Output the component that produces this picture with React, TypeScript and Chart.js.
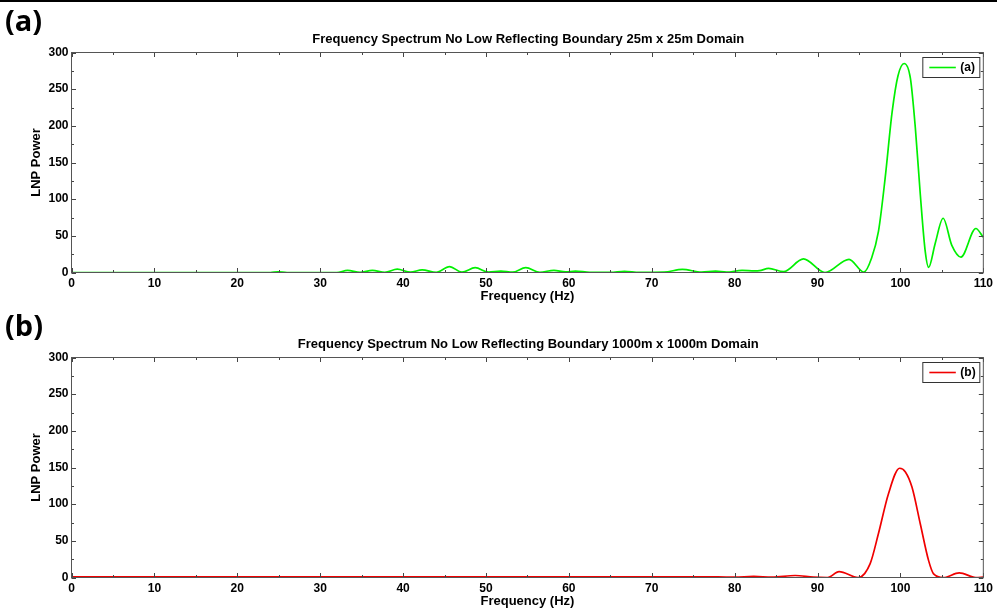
import React, { useEffect, useRef } from "react";
import { Chart, registerables } from "chart.js";

Chart.register(...registerables);

// ---------- data ----------
const freqA = [0, 10, 20, 24, 24.9, 26, 32, 33.3, 34.8, 36.3, 37.8, 39.3, 40.9, 42.3, 44, 45.6, 47.1, 48.7, 50.3, 51.8, 53.2, 54.8, 56.5, 58.2, 59.6, 60.8, 62.5, 65, 66.7, 68.5, 71.5, 73.7, 76, 77.7, 79, 80.9, 82.4, 83, 84.1, 85.9, 88.3, 90.9, 93.8, 95.6, 96.5, 97.35, 98.15, 99.0, 99.7, 100.45, 101.2, 101.8, 102.4, 103.0, 103.4, 104.2, 105.15, 106.2, 107.3, 109.1, 110];
const powerA = [0, 0, 0, 0, 1, 0, 0, 2.8, 0.3, 2.8, 0.3, 4.5, 0.4, 3.6, 0.2, 8, 0.5, 6.6, 0.5, 1.8, 0.4, 6.6, 0.3, 3, 0.8, 2, 0.3, 0.2, 1.6, 0.2, 0.5, 4.3, 0.5, 1.8, 0.5, 3, 2.2, 2.5, 5.5, 1.2, 18.5, 0, 18, 0.5, 19, 56, 128, 219, 268, 285, 265, 197, 106, 28, 7, 40, 74, 37, 21, 60, 48];

const freqB = [0, 10, 20, 30, 40, 50, 60, 70, 78, 80, 82.3, 84.5, 87.3, 89.5, 91.2, 92.6, 94.9, 96.35, 97.35, 98.55, 99.9, 100.6, 101.4, 102.4, 103.4, 104.0, 105.2, 107.1, 109.1, 110];
const powerB = [0.8, 0.8, 0.8, 0.8, 0.8, 0.8, 0.8, 0.8, 0.8, 0.5, 1.5, 0.5, 2.7, 0.5, 0, 8, 0, 19, 60, 114, 149, 144, 123, 73, 23, 5, 0, 6.4, 0, 0.5];

const xMin = 0;
const xMax = 110;
const xStep = 10;
const yMin = 0;
const yMax = 300;
const yStep = 50;

const titleA = "Frequency Spectrum No Low Reflecting Boundary 25m x 25m Domain";
const titleB = "Frequency Spectrum No Low Reflecting Boundary 1000m x 1000m Domain";

// ---------- layout ----------
const W = 997;
const PANEL_H = 305;
const AREA_LEFT = 71.5;
const AREA_RIGHT = 985;
const AREA_TOP = 52.5;
const AREA_BOTTOM = 272.5;
const FONT = "'Liberation Sans', Arial, sans-serif";

const framePlugin = {
  id: "frameTicks",
  afterDraw(chart: any) {
    const { ctx, chartArea } = chart;
    const { left, right, top, bottom } = chartArea;
    const xs = chart.scales.x;
    const ys = chart.scales.y;
    ctx.save();
    ctx.lineWidth = 1;
    ctx.strokeStyle = "#444";
    ctx.beginPath();
    for (let v = xMin; v <= xMax + 1e-9; v += xStep / 2) {
      const major = Math.abs(v / xStep - Math.round(v / xStep)) < 1e-6;
      const len = major ? 4.5 : 2.5;
      const px = Math.round(xs.getPixelForValue(v)) + 0.5;
      ctx.moveTo(px, bottom);
      ctx.lineTo(px, bottom - len);
      ctx.moveTo(px, top);
      ctx.lineTo(px, top + len);
    }
    for (let v = yMin; v <= yMax + 1e-9; v += yStep / 2) {
      const major = Math.abs(v / yStep - Math.round(v / yStep)) < 1e-6;
      const len = major ? 4.5 : 2.5;
      const py = Math.round(ys.getPixelForValue(v)) + 0.5;
      ctx.moveTo(left, py);
      ctx.lineTo(left + len, py);
      ctx.moveTo(right, py);
      ctx.lineTo(right - len, py);
    }
    ctx.stroke();
    ctx.strokeStyle = "#555";
    ctx.strokeRect(left, top, right - left, bottom - top);
    ctx.restore();
  },
};

const legendPlugin = {
  id: "boxLegend",
  afterDraw(chart: any) {
    const { ctx, chartArea } = chart;
    const ds = chart.data.datasets[0];
    const w = 57;
    const h = 20;
    const bx = chartArea.right - 3.5 - w;
    const by = chartArea.top + 5;
    ctx.save();
    ctx.fillStyle = "#fff";
    ctx.fillRect(bx, by, w, h);
    ctx.strokeStyle = "#333";
    ctx.lineWidth = 1;
    ctx.strokeRect(bx, by, w, h);
    ctx.strokeStyle = ds.borderColor;
    ctx.lineWidth = 1.6;
    ctx.beginPath();
    ctx.moveTo(bx + 6.5, by + h / 2);
    ctx.lineTo(bx + 33, by + h / 2);
    ctx.stroke();
    ctx.fillStyle = "#000";
    ctx.font = `bold 12px ${FONT}`;
    ctx.textBaseline = "middle";
    ctx.textAlign = "left";
    ctx.fillText(ds.label, bx + 37.5, by + h / 2 + 0.5);
    ctx.restore();
  },
};

function Panel(props: { top: number; tag: string; title: string; freq: number[]; power: number[]; color: string; label: string }) {
  const ref = useRef<HTMLCanvasElement | null>(null);
  useEffect(() => {
    if (!ref.current) return;
    const pts = props.freq.map((f, i) => ({ x: f, y: props.power[i] }));
    const tickFont = { family: FONT, size: 12, weight: "bold" as const };
    const titleFont = { family: FONT, size: 13, weight: "bold" as const };
    const chart = new Chart(ref.current, {
      type: "line",
      data: {
        datasets: [
          {
            label: props.label,
            data: pts,
            borderColor: props.color,
            backgroundColor: props.color,
            borderWidth: 1.7,
            pointRadius: 0,
            cubicInterpolationMode: "monotone",
            fill: false,
          },
        ],
      },
      options: {
        responsive: false,
        animation: false,
        devicePixelRatio: 1,
        layout: { padding: { top: AREA_TOP, right: W - AREA_RIGHT, left: 0, bottom: 0 } },
        plugins: { legend: { display: false }, title: { display: false }, tooltip: { enabled: false } },
        scales: {
          x: {
            type: "linear",
            min: xMin,
            max: xMax,
            afterFit: (s: any) => {
              s.height = PANEL_H - AREA_BOTTOM;
            },
            grid: { display: false, drawTicks: false },
            border: { display: false },
            ticks: { stepSize: xStep, padding: 4, color: "#000", font: tickFont, maxRotation: 0, autoSkip: false },
            title: { display: true, text: "Frequency (Hz)", color: "#000", font: titleFont, padding: { top: 0, bottom: 1 } },
          },
          y: {
            type: "linear",
            min: yMin,
            max: yMax,
            afterFit: (s: any) => {
              s.width = AREA_LEFT;
            },
            grid: { display: false, drawTicks: false },
            border: { display: false },
            ticks: { stepSize: yStep, padding: 3, color: "#000", font: tickFont },
            title: { display: true, text: "LNP Power", color: "#000", font: titleFont, padding: { top: 29, bottom: 0 } },
          },
        },
      },
      plugins: [framePlugin, legendPlugin],
    } as any);
    return () => chart.destroy();
  }, []);
  return (
    <div style={{ position: "absolute", left: 0, top: props.top, width: W, height: PANEL_H }}>
      <canvas ref={ref} width={W} height={PANEL_H} style={{ position: "absolute", left: 0, top: 0, width: W, height: PANEL_H }} />
      <div
        style={{
          position: "absolute",
          left: 5,
          top: 1,
          fontFamily: "'Open Sans', sans-serif",
          fontWeight: 700,
          fontSize: 29,
          lineHeight: "38px",
          color: "#000",
        }}
      >
        {props.tag}
      </div>
      <div
        style={{
          position: "absolute",
          left: AREA_LEFT,
          width: AREA_RIGHT - AREA_LEFT,
          top: 31,
          textAlign: "center",
          fontFamily: FONT,
          fontWeight: 700,
          fontSize: 13,
          lineHeight: "16px",
          color: "#000",
        }}
      >
        {props.title}
      </div>
    </div>
  );
}

export default function App() {
  return (
    <div style={{ position: "fixed", left: 0, top: 0, width: W, height: 611, background: "#fff", overflow: "hidden" }}>
      <div style={{ position: "absolute", left: 0, top: 0, width: W, height: 2, background: "#000", zIndex: 2 }} />
      <Panel top={0} tag="(a)" title={titleA} freq={freqA} power={powerA} color="#00f000" label="(a)" />
      <Panel top={PANEL_H} tag="(b)" title={titleB} freq={freqB} power={powerB} color="#f00000" label="(b)" />
    </div>
  );
}
